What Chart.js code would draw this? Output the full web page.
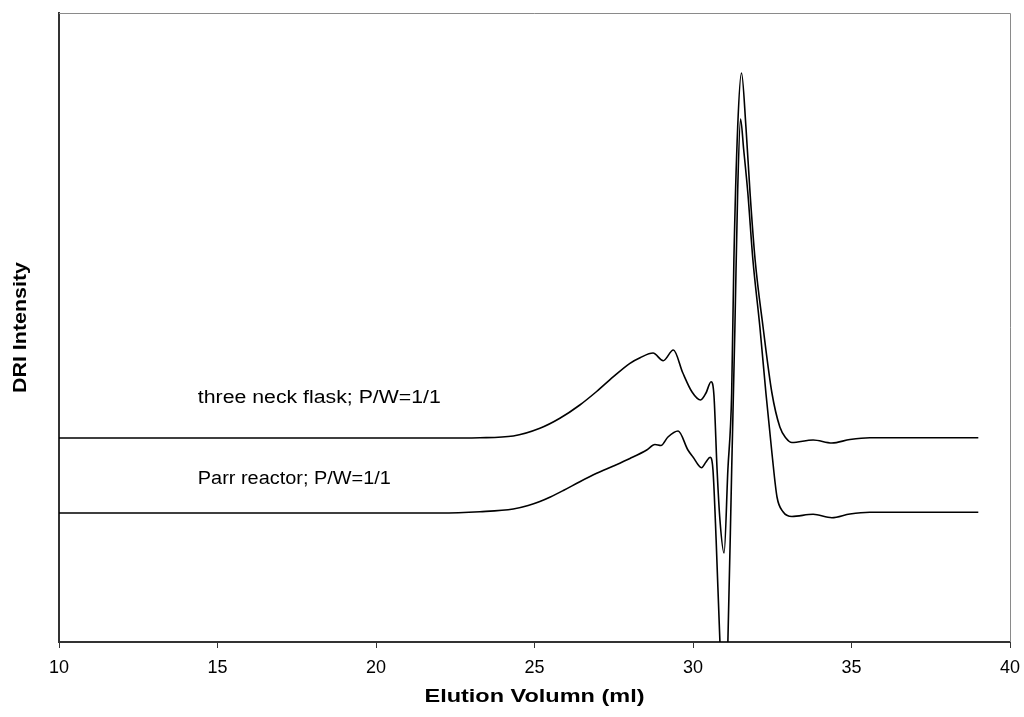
<!DOCTYPE html>
<html>
<head>
<meta charset="utf-8">
<script src="https://cdn.jsdelivr.net/npm/chart.js@4.4.0/dist/chart.umd.min.js"></script>
<style>
  html, body { margin: 0; padding: 0; background: #fff; }
  #wrap { width: 1024px; height: 717px; }
</style>
</head>
<body>
<div id="wrap"><canvas id="gpcChart" width="1024" height="717"></canvas></div>
<script>
// ------------------------------- DATA ----------------------------------
// elution volume (ml) and DRI intensity (arbitrary units)
var threeNeckX = [10, 17.6, 22.02, 23.28, 24.33, 25.17, 25.80, 26.43, 26.96, 27.49, 28.01, 28.33, 28.74,
  29.06, 29.38, 29.68, 29.97, 30.24, 30.41, 30.57, 30.66, 30.76, 30.85, 30.98, 31.10, 31.22, 31.29,
  31.41, 31.53, 31.67, 31.80, 31.96, 32.21, 32.49, 32.74, 32.93, 33.12, 33.79, 34.38, 34.95, 35.58, 39];
var threeNeckY = [204, 204, 204, 204.3, 206, 213.7, 223.7, 237, 250.5, 265.3, 278.7, 284.3, 289,
  281.3, 292, 269, 250, 242, 249, 260.3, 247, 172, 122, 89, 172, 249, 382,
  515, 569, 515, 449, 382, 315, 249, 215, 204, 199.5, 202, 199, 202.5, 204.3, 204.3];

var parrX = [10, 17.6, 22.02, 23.28, 24.33, 24.8, 25.17, 25.5, 25.91, 26.43, 26.96, 27.49, 28.01, 28.54, 28.80, 28.99, 29.21,
  29.53, 29.84, 30.0, 30.27, 30.41, 30.54, 30.63, 30.73, 30.85, 30.98, 31.10, 31.22, 31.32, 31.41,
  31.50, 31.60, 31.73, 31.89, 32.11, 32.30, 32.49, 32.65, 32.84, 33.12, 33.79, 34.38, 34.95, 35.58, 39];
var parrY = [129, 129, 129, 130.3, 133, 136.5, 140.5, 145, 151.5, 160.3, 168.7, 176, 183.5, 192, 197.5, 196.5, 205,
  211, 192, 185, 174.3, 180, 184.7, 172, 102, 0, -78, 0, 172, 312, 452,
  523, 492, 449, 382, 315, 249, 189, 145, 130.3, 125.5, 127.7, 124.3, 128, 129.7, 129.7];

// curve labels: [text, x, y, width in px]
var curveLabels = [
  ['three neck flask; P/W=1/1', 14.38, 244, 243],
  ['Parr reactor; P/W=1/1', 14.38, 163, 193]
];

var toPoints = (xs, ys) => xs.map((x, i) => ({ x: x, y: ys[i] }));
var FONT = '"Liberation Sans", Arial, sans-serif';

// text in the picture is a little wider than the font, so squeeze it to a width
var drawWide = (ctx, text, x, y, font, width, align) => {
  ctx.font = font;
  var w = ctx.measureText(text).width;
  var sx = width / w;
  ctx.save();
  ctx.translate(x, y);
  ctx.scale(sx, 1);
  ctx.textAlign = align;
  ctx.textBaseline = 'middle';
  ctx.fillText(text, 0, 0);
  ctx.restore();
};

// draws the box round the plot, the axis titles and the curve labels
var framePlugin = {
  id: 'frame',
  afterDatasetsDraw: (chart) => {
    var ctx = chart.ctx;
    var a = chart.chartArea;
    ctx.save();
    ctx.strokeStyle = '#8a8a8a';
    ctx.lineWidth = 1;
    ctx.beginPath();
    ctx.moveTo(a.left, a.top + 0.5);
    ctx.lineTo(a.right + 0.5, a.top + 0.5);
    ctx.lineTo(a.right + 0.5, a.bottom);
    ctx.stroke();

    ctx.fillStyle = '#000';
    curveLabels.forEach((l) => {
      drawWide(ctx, l[0], chart.scales.x.getPixelForValue(l[1]), chart.scales.y.getPixelForValue(l[2]),
        '18px ' + FONT, l[3], 'left');
    });

    // x title
    drawWide(ctx, 'Elution Volumn (ml)', (a.left + a.right) / 2, 697, 'bold 19px ' + FONT, 220, 'center');

    // y title
    ctx.save();
    ctx.translate(21, (a.top + a.bottom) / 2);
    ctx.rotate(-Math.PI / 2);
    drawWide(ctx, 'DRI Intensity', 0, 0, 'bold 19px ' + FONT, 131, 'center');
    ctx.restore();
    ctx.restore();
  }
};

var ctx1 = document.getElementById('gpcChart').getContext('2d');
var gpcChart = new Chart(ctx1, {
  type: 'scatter',
  data: {
    datasets: [{
      label: 'three neck flask; P/W=1/1',
      data: toPoints(threeNeckX, threeNeckY),
      showLine: true,
      borderColor: '#000',
      borderWidth: 1.6,
      pointRadius: 0,
      cubicInterpolationMode: 'monotone'
    }, {
      label: 'Parr reactor; P/W=1/1',
      data: toPoints(parrX, parrY),
      showLine: true,
      borderColor: '#000',
      borderWidth: 1.6,
      pointRadius: 0,
      cubicInterpolationMode: 'monotone'
    }]
  },
  options: {
    responsive: false,
    animation: false,
    layout: { padding: { top: 13, right: 14, left: 0, bottom: 0 } },
    plugins: {
      legend: { display: false },
      tooltip: { enabled: false }
    },
    scales: {
      x: {
        type: 'linear',
        min: 10,
        max: 40,
        afterFit: (scale) => {
          scale.height = 75;
          scale.paddingLeft = 0;
          scale.paddingRight = 0;
        },
        ticks: {
          stepSize: 5,
          color: '#000',
          padding: 9,
          font: { family: FONT, size: 18 }
        },
        grid: { drawOnChartArea: false, tickLength: 6, color: '#333' },
        border: { color: '#333', width: 2 }
      },
      y: {
        min: 0,
        max: 629,
        afterFit: (scale) => { scale.width = 59; },
        ticks: { display: false },
        grid: { display: false },
        border: { color: '#333', width: 2 }
      }
    }
  },
  plugins: [framePlugin]
});
</script>
</body>
</html>
